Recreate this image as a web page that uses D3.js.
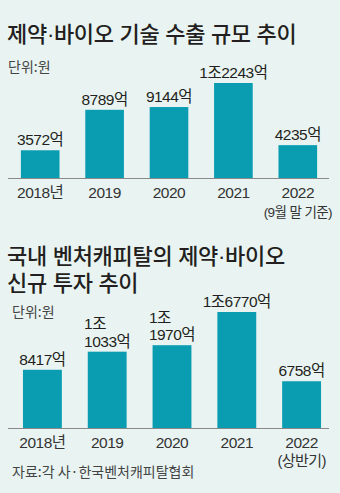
<!DOCTYPE html>
<html>
<head>
<meta charset="utf-8">
<script src="https://cdn.jsdelivr.net/npm/d3@7"></script>
<style>
  body { margin: 0; background: #e9f4f2; }
  svg { display: block; }
  text { font-family: "Noto Sans CJK KR", "Noto Sans", sans-serif; fill: #231f20; }
  .num { font-family: "Liberation Sans", "Noto Sans CJK KR", sans-serif; }
</style>
</head>
<body>
<div id="chart"></div>
<script>
// data
var years1 = ["2018년", "2019", "2020", "2021", "2022"];
var values1 = [3572, 8789, 9144, 12243, 4235];
var labels1 = ["3572억", "8789억", "9144억", "1조2243억", "4235억"];
var notes1 = ["", "", "", "", "(9월 말 기준)"];

var years2 = ["2018년", "2019", "2020", "2021", "2022"];
var values2 = [8417, 11033, 11970, 16770, 6758];
var labels2 = [["8417억"], ["1조", "1033억"], ["1조", "1970억"], ["1조6770억"], ["6758억"]];
var notes2 = ["", "", "", "", "(상반기)"];

var svgWidth = 340;
var svgHeight = 493;
var barColor = "#0a9db2";

var svg = d3.select("#chart")
  .append("svg")
  .attr("width", svgWidth)
  .attr("height", svgHeight);

// titles
function title(txt, x, y) {
  svg.append("text")
    .attr("class", "num")
    .attr("x", x).attr("y", y)
    .attr("font-size", 22)
    .attr("font-weight", 500)
    .attr("letter-spacing", -0.3)
    .text(txt);
}
title("제약·바이오 기술 수출 규모 추이", 7, 42);
title("국내 벤처캐피탈의 제약·바이오", 7, 264);
title("신규 투자 추이", 7, 291);

svg.append("text")
  .attr("x", 8).attr("y", 72)
  .attr("font-size", 14)
  .style("fill", "#444")
  .text("단위:원");

svg.append("text")
  .attr("x", 12).attr("y", 317)
  .attr("font-size", 14)
  .style("fill", "#444")
  .text("단위:원");

svg.append("text")
  .attr("x", 12).attr("y", 477)
  .attr("font-size", 14)
  .style("fill", "#444")
  .text("자료:각 사·한국벤처캐피탈협회");

function drawBars(opt) {
  var g = svg.append("g");

  var xScale = d3.scaleBand()
    .domain(opt.years)
    .range(opt.xRange)
    .paddingInner(0.4)
    .paddingOuter(0.2);

  var yScale = d3.scaleLinear()
    .domain([0, d3.max(opt.values)])
    .range([opt.base, opt.top]);

  g.selectAll("rect")
    .data(opt.values)
    .enter()
    .append("rect")
    .attr("x", (d, i) => xScale(opt.years[i]))
    .attr("y", d => yScale(d))
    .attr("width", xScale.bandwidth())
    .attr("height", d => opt.base - yScale(d))
    .style("fill", barColor);

  // axis line
  g.append("line")
    .attr("x1", 8).attr("x2", 329)
    .attr("y1", opt.base + 0.5).attr("y2", opt.base + 0.5)
    .style("stroke", "#8a8a8a")
    .style("stroke-width", 1);

  // value labels
  opt.values.forEach(function(v, i) {
    var cx = xScale(opt.years[i]) + xScale.bandwidth() / 2;
    var lines = opt.labels[i];
    if (typeof lines === "string") lines = [lines];
    var y0 = yScale(v) - 5;
    var n = lines.length;
    var last = g.append("text")
      .attr("class", "num")
      .attr("x", cx)
      .attr("y", y0)
      .attr("text-anchor", "middle")
      .attr("font-size", 15.5)
      .attr("letter-spacing", -0.5)
      .text(lines[n - 1]);
    if (n > 1) {
      var w = last.node().getComputedTextLength();
      g.append("text")
        .attr("class", "num")
        .attr("x", cx - w / 2)
        .attr("y", y0 - 17.5)
        .attr("font-size", 15.5)
        .attr("letter-spacing", -0.5)
        .text(lines[0]);
    }
  });

  // x labels
  g.selectAll(".year")
    .data(opt.years)
    .enter()
    .append("text")
    .attr("class", "num")
    .attr("x", d => xScale(d) + xScale.bandwidth() / 2)
    .attr("y", opt.base + 20)
    .attr("text-anchor", "middle")
    .attr("font-size", 15.5)
    .attr("letter-spacing", -0.5)
    .style("fill", "#333")
    .text(d => d);

  g.selectAll(".note")
    .data(opt.notes)
    .enter()
    .append("text")
    .attr("class", "num")
    .attr("x", (d, i) => xScale(opt.years[i]) + xScale.bandwidth() / 2)
    .attr("y", opt.base + opt.noteDy)
    .attr("text-anchor", "middle")
    .attr("font-size", opt.noteSize)
    .attr("letter-spacing", -0.6)
    .style("fill", "#333")
    .text(d => d);
}

drawBars({
  years: years1, values: values1, labels: labels1, notes: notes1,
  xRange: [8, 330], base: 178, top: 83, noteDy: 39, noteSize: 13.5
});

drawBars({
  years: years2, values: values2, labels: labels2, notes: notes2,
  xRange: [10, 334], base: 428, top: 312, noteDy: 37.5, noteSize: 15
});
</script>
</body>
</html>
